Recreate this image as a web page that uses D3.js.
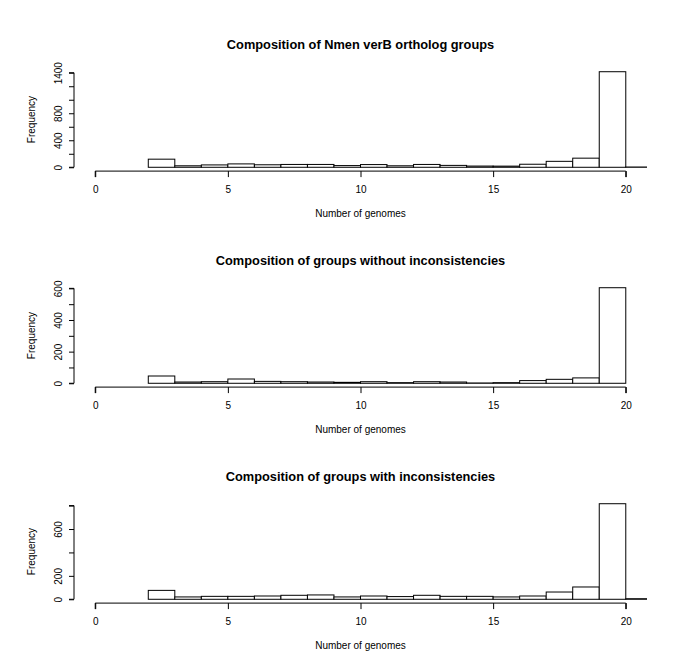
<!DOCTYPE html>
<html>
<head>
<meta charset="utf-8">
<script src="https://cdn.jsdelivr.net/npm/d3@7"></script>
<style>
  body { margin: 0; background: #fff; }
  svg { display: block; }
  text { font-family: "Liberation Sans", Arial, Helvetica, sans-serif; fill: #000; }
</style>
</head>
<body>
<svg id="chart" width="685" height="666"></svg>
<script>
// ---- data ----
const titles = [
  "Composition of Nmen verB ortholog groups",
  "Composition of groups without inconsistencies",
  "Composition of groups with inconsistencies"
];
const xLabel = "Number of genomes";
const yLabel = "Frequency";

// bin left edges (bins are 1 wide)
const binStarts1 = [2,3,4,5,6,7,8,9,10,11,12,13,14,15,16,17,18,19,20];
const counts1    = [120,22,35,50,37,42,42,25,40,22,42,28,18,17,45,88,135,1415,4];

const binStarts2 = [2,3,4,5,6,7,8,9,10,11,12,13,14,15,16,17,18,19];
const counts2    = [46,8,10,27,12,10,8,6,10,4,10,8,2,4,17,25,34,604];

const binStarts3 = [2,3,4,5,6,7,8,9,10,11,12,13,14,15,16,17,18,19,20];
const counts3    = [76,20,25,25,28,34,37,20,28,23,34,25,25,20,28,62,105,816,5];

const xTicks = [0,5,10,15,20];
const yTicks1 = [0,200,400,600,800,1000,1200,1400];
const yTickLabels1 = [0,400,800,1400];
const yTicks2 = [0,100,200,300,400,500,600];
const yTickLabels2 = [0,200,400,600];
const yTicks3 = [0,200,400,600,800];
const yTickLabels3 = [0,200,600];

const panels = [
  {title: titles[0], starts: binStarts1, counts: counts1, ticks: yTicks1, labels: yTickLabels1},
  {title: titles[1], starts: binStarts2, counts: counts2, ticks: yTicks2, labels: yTickLabels2},
  {title: titles[2], starts: binStarts3, counts: counts3, ticks: yTicks3, labels: yTickLabels3}
];

// ---- layout ----
const svg = d3.select("#chart");
const plotLeft = 74, plotRight = 647;
const plotTop0 = 67.9, plotH = 103.2, panelStep = 216;
const xlim = [0, 20];
const xpad = 0.04 * (xlim[1] - xlim[0]);

panels.forEach((p, i) => {
  const top = plotTop0 + i * panelStep;
  const bottom = top + plotH;
  const ymax = d3.max(p.counts);
  const x = d3.scaleLinear().domain([xlim[0] - xpad, xlim[1] + xpad]).range([plotLeft, plotRight]);
  const y = d3.scaleLinear().domain([-0.04 * ymax, 1.04 * ymax]).range([bottom, top]);

  const g = svg.append("g");
  const clipId = "clip" + i;
  svg.append("clipPath").attr("id", clipId)
    .append("rect").attr("x", plotLeft).attr("y", top - 2).attr("width", plotRight - plotLeft).attr("height", plotH + 4);

  // bars
  g.append("g").attr("clip-path", `url(#${clipId})`)
    .selectAll("rect").data(p.starts.map((s, k) => ({s, c: p.counts[k]})))
    .join("rect")
    .attr("x", d => x(d.s))
    .attr("width", d => x(d.s + 1) - x(d.s))
    .attr("y", d => y(d.c))
    .attr("height", d => Math.max(0, y(0) - y(d.c)))
    .attr("fill", "#fff")
    .attr("stroke", "#000")
    .attr("stroke-width", 1);

  // x axis
  const xAxis = d3.axisBottom(x).tickValues(xTicks).tickSize(6).tickPadding(9).tickFormat(d3.format("d"));
  const xa = g.append("g").attr("transform", `translate(0,${bottom})`).call(xAxis);
  xa.select(".domain").attr("d", `M${x(xTicks[0])},6V0H${x(xTicks[xTicks.length-1])}V6`);
  xa.selectAll("text").attr("font-size", 10).attr("font-family", "Liberation Sans, Arial, sans-serif").attr("dy", "0.71em");

  // y axis
  const yAxis = d3.axisLeft(y).tickValues(p.ticks).tickSize(5)
    .tickFormat(d => p.labels.includes(d) ? d : "");
  const ya = g.append("g").attr("transform", `translate(${plotLeft},0)`).call(yAxis);
  ya.select(".domain").attr("d", `M-5,${y(p.ticks[0])}H0V${y(p.ticks[p.ticks.length-1])}H-5`);
  ya.selectAll(".tick text")
    .attr("font-size", 10).attr("font-family", "Liberation Sans, Arial, sans-serif")
    .attr("x", null).attr("dy", null)
    .attr("text-anchor", "middle")
    .attr("transform", "translate(-12,0) rotate(-90)");

  // title
  const cx = (plotLeft + plotRight) / 2;
  g.append("text").attr("x", cx).attr("y", top - 19.4)
    .attr("text-anchor", "middle").attr("font-weight", "bold").attr("font-size", 12.8)
    .text(p.title);

  // x label
  g.append("text").attr("x", cx).attr("y", bottom + 45.5)
    .attr("text-anchor", "middle").attr("font-size", 10).text(xLabel);

  // y label
  g.append("text").attr("transform", `translate(35,${(top + bottom) / 2}) rotate(-90)`)
    .attr("text-anchor", "middle").attr("font-size", 10).text(yLabel);
});
</script>
</body>
</html>
